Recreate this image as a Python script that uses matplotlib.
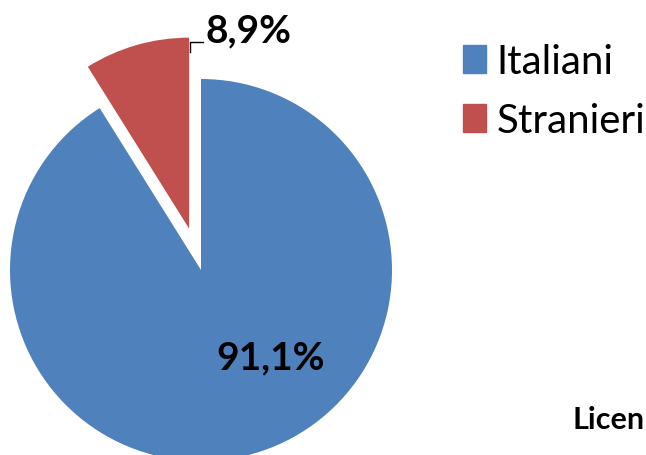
import matplotlib
matplotlib.use("Agg")
import matplotlib.pyplot as plt
from matplotlib.patches import Patch

categories = ["Italiani", "Stranieri"]
values = [91.1, 8.9]
labels = ["91,1%", "8,9%"]
colors = ["#4F81BD", "#C0504D"]

W, H = 646, 456
fig = plt.figure(figsize=(W / 100, H / 100), dpi=100)
ax = fig.add_axes([0, 0, 1, 1])

cx, cy, r = 201, H - 271, 191
ax.pie(values, colors=colors, startangle=90, counterclock=False,
       explode=[0, 43], radius=r, center=(cx, cy), frame=True)
ax.set_xlim(0, W)
ax.set_ylim(0, H)
ax.set_aspect("equal")
ax.axis("off")

font = "Lato"
ax.text(271, H - 358, labels[0], ha="center", va="center",
        fontsize=28, fontweight="bold", family=font)
ax.text(205, H - 31, labels[1], ha="left", va="center",
        fontsize=28, fontweight="bold", family=font)
ax.plot([190, 190, 203], [H - 53, H - 43, H - 43], color="black", lw=1)

handles = [Patch(color=c) for c in colors]
fig.legend(handles, categories, loc="upper left", bbox_to_anchor=(455 / W, 1 - 36 / H),
           frameon=False, handlelength=0.58, handleheight=0.68,
           handletextpad=0.25, labelspacing=0.55, borderaxespad=0, borderpad=0.2,
           prop={"family": font, "size": 29})

ax.text(645, H - 420, "Licen", ha="right", va="center", fontsize=22,
        fontweight="bold", family=font, clip_on=False)

fig.savefig("out.png", dpi=100)
